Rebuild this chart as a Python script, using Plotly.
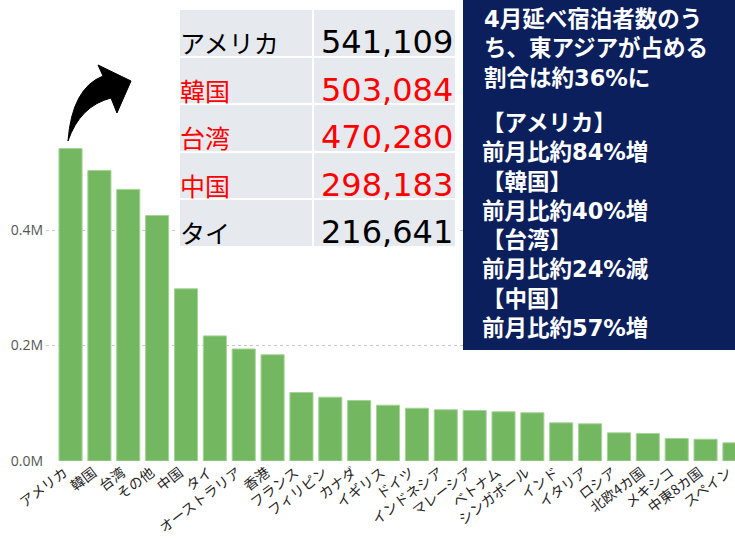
import plotly.graph_objects as go

# データ(4月 延べ宿泊者数, 国・地域別)
countries = ["アメリカ", "韓国", "台湾", "その他", "中国", "タイ", "オーストラリア", "香港",
             "フランス", "フィリピン", "カナダ", "イギリス", "ドイツ", "インドネシア",
             "マレーシア", "ベトナム", "シンガポール", "インド", "イタリア", "ロシア",
             "北欧4カ国", "メキシコ", "中東8カ国", "スペイン"]
guests = [541109, 503084, 470280, 425000, 298183, 216641, 194000, 184000,
          118600, 110500, 104800, 96600, 91400, 88700,
          87400, 85200, 83500, 66100, 64400, 48800,
          47600, 39000, 37700, 31500]

# 上位5か国の表
top_names = ["アメリカ", "韓国", "台湾", "中国", "タイ"]
top_values = ["541,109", "503,084", "470,280", "298,183", "216,641"]
red_names = {"韓国", "台湾", "中国"}

y_ticks = [0, 200000, 400000]
y_tick_labels = ["0.0M", "0.2M", "0.4M"]

headline = "4月延べ宿泊者数のう<br>ち、東アジアが占める<br>割合は約36%に"
details = ("【アメリカ】<br>前月比約84%増<br>【韓国】<br>前月比約40%増<br>"
           "【台湾】<br>前月比約24%減<br>【中国】<br>前月比約57%増")

JP = "Noto Sans CJK JP"
MIX = "DejaVu Sans, Noto Sans CJK JP"
W, H = 735, 539
ML, MR, MT, MB = 46, 0, 0, 78
PW, PH = W - ML - MR, H - MT - MB
ROW_H = 47.5


def px(x, y):
    # ピクセル位置 -> paper座標
    return (x - ML) / PW, (H - MB - y) / PH


fig = go.Figure()

fig.add_trace(go.Bar(
    x=countries, y=guests,
    marker=dict(color="#73b761", line=dict(color="#a6d398", width=1)),
    hoverinfo="x+y",
))

# 表の背景(セル)
tx0, ty1 = px(179, 9)
tx1, ty0 = px(456, 9 + ROW_H * len(top_names))
blank = [""] * len(top_names)
fig.add_trace(go.Table(
    domain=dict(x=[tx0, tx1], y=[ty0, ty1]),
    columnwidth=[134, 143],
    header=dict(values=["", ""], fill_color="#e6e9ed", line=dict(color="white", width=2),
                height=ROW_H),
    cells=dict(values=[blank[1:], blank[1:]], fill_color="#e6e9ed",
               line=dict(color="white", width=2), height=ROW_H),
))
# 表の文字
for i, (name, val) in enumerate(zip(top_names, top_values)):
    col = "#ff0000" if name in red_names else "#000000"
    yc = 9 + ROW_H * i + 33
    x0, y0 = px(178, yc)
    fig.add_annotation(xref="paper", yref="paper", x=x0, y=y0, xanchor="left", yanchor="middle",
                       text=name, showarrow=False, font=dict(family=JP, size=25, color=col))
    x1, y1 = px(455, yc)
    fig.add_annotation(xref="paper", yref="paper", x=x1, y=y1, xanchor="right", yanchor="middle",
                       text=val, showarrow=False, font=dict(family=MIX, size=32, color=col))

# 右上の説明ボックス
bx0, by0 = px(463, 350)
bx1, by1 = px(736, -1)
fig.add_shape(type="rect", xref="paper", yref="paper", x0=bx0, x1=bx1, y0=by0, y1=by1,
              fillcolor="#0b1f5c", line=dict(width=0), layer="above")
ax, ay = px(482, 4)
fig.add_annotation(xref="paper", yref="paper", x=ax, y=ay, xanchor="left", yanchor="top",
                   text=headline, showarrow=False, align="left",
                   font=dict(family=MIX, size=22.5, color="white", weight="bold"))
ax, ay = px(480, 108)
fig.add_annotation(xref="paper", yref="paper", x=ax, y=ay, xanchor="left", yanchor="top",
                   text=details, showarrow=False, align="left",
                   font=dict(family=MIX, size=22.5, color="white", weight="bold"))

# 曲がった矢印
arrow_pts = [("M", (68, 141)), ("Q", (72, 88)), ("", (103, 76)), ("L", (98, 65)),
             ("L", (131, 81)), ("L", (117, 113)), ("L", (111, 98)),
             ("Q", (80, 106)), ("", (68, 141))]
path = ""
for cmd, (x, y) in arrow_pts:
    pxx, pyy = px(x, y)
    path += f"{cmd}{pxx:.4f},{pyy:.4f} "
fig.add_shape(type="path", xref="paper", yref="paper", path=path + "Z",
              fillcolor="black", line=dict(color="black", width=1), layer="above")

fig.update_layout(
    width=W, height=H,
    margin=dict(l=ML, r=MR, t=MT, b=MB, autoexpand=False),
    plot_bgcolor="white", paper_bgcolor="white",
    bargap=0.2, showlegend=False,
    font=dict(family=JP),
)
fig.update_xaxes(
    range=[-0.85, 23.02], tickangle=-37, showgrid=False, showline=False, ticks="",
    automargin=False, ticklabelshift=-6,
    tickfont=dict(family=JP, size=14, color="#252423"),
)
fig.update_yaxes(
    range=[0, (H - MB - MT) * 200000 / 115.5], tickvals=y_ticks, ticktext=y_tick_labels,
    showgrid=True, gridcolor="#c8c8c8", griddash="dot", gridwidth=1,
    zeroline=False, showline=False, ticklabelstandoff=2, automargin=False,
    tickfont=dict(family="Open Sans", size=14, color="#555555"),
)

fig.write_html("out.html", config={"displayModeBar": False},
               post_script="document.body.style.margin='0';document.body.style.overflow='hidden';")
